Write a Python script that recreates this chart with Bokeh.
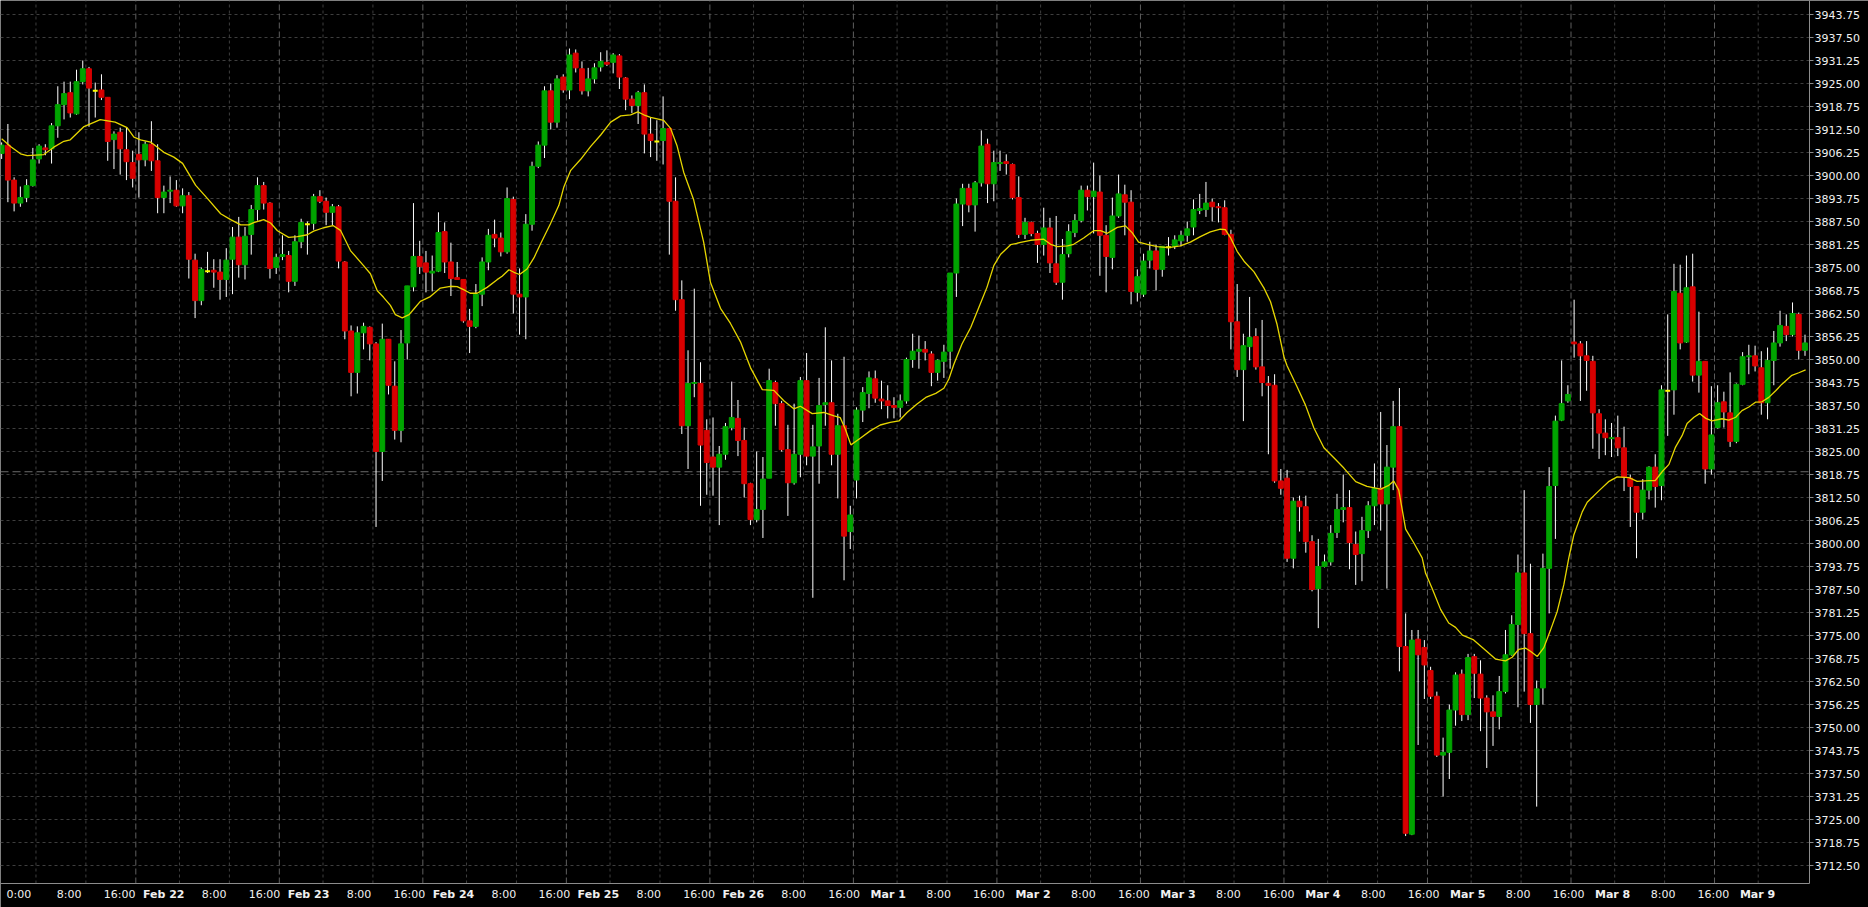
from bokeh.plotting import figure
from bokeh.models import ColumnDataSource, Range1d
from bokeh.core.properties import value
from bokeh.embed import file_html
from bokeh.resources import INLINE

# ---------------- data (hourly OHLC) ----------------
opens = [3906.0, 3908.25, 3898.75, 3892.5, 3894.0, 3897.25, 3904.5, 3907.5, 3907.25, 3913.5,
         3919.25, 3922.5, 3916.75, 3925.5, 3929.0, 3923.0, 3923.25, 3921.25, 3909.75, 3911.75,
         3907.0, 3903.5, 3905.75, 3904.25, 3908.5, 3904.0, 3894.0, 3895.75, 3896.0, 3891.75,
         3894.5, 3877.0, 3866.0, 3874.0, 3874.25, 3873.75, 3871.75, 3877.25, 3883.25, 3875.75,
         3884.0, 3890.75, 3897.25, 3892.5, 3875.0, 3878.0, 3878.25, 3871.25, 3882.0, 3886.75,
         3887.0, 3894.25, 3893.0, 3890.0, 3891.5, 3876.5, 3857.75, 3846.5, 3857.25, 3858.75,
         3854.25, 3825.0, 3855.5, 3842.75, 3830.75, 3854.5, 3869.75, 3878.0, 3876.25, 3873.5,
         3874.0, 3884.75, 3876.5, 3872.25, 3871.75, 3860.5, 3859.0, 3867.75, 3876.5, 3884.0,
         3883.0, 3879.25, 3893.5, 3867.75, 3867.0, 3886.75, 3902.5, 3908.25, 3923.0, 3914.5,
         3926.75, 3923.25, 3933.25, 3929.0, 3923.0, 3926.25, 3929.5, 3930.75, 3930.75, 3932.5,
         3926.5, 3920.75, 3919.0, 3922.5, 3911.25, 3909.25, 3909.5, 3912.75, 3893.0, 3866.25,
         3832.0, 3843.5, 3843.5, 3830.75, 3823.5, 3820.75, 3824.25, 3831.5, 3834.0, 3828.0,
         3816.25, 3806.5, 3809.25, 3817.75, 3843.75, 3838.0, 3825.5, 3816.5, 3824.25, 3844.25,
         3823.75, 3826.5, 3837.75, 3838.25, 3824.25, 3832.0, 3803.25, 3817.25, 3836.25, 3840.75,
         3844.75, 3839.25, 3838.75, 3837.5, 3837.0, 3838.75, 3850.0, 3852.25, 3852.75, 3851.5,
         3846.5, 3849.5, 3852.25, 3873.5, 3892.25, 3896.5, 3892.0, 3898.0, 3908.5, 3897.75,
         3903.25, 3903.75, 3903.0, 3894.0, 3884.0, 3887.25, 3884.25, 3881.25, 3885.75, 3876.0,
         3871.0, 3878.75, 3884.5, 3887.75, 3896.0, 3894.25, 3895.5, 3883.75, 3877.75, 3889.0,
         3894.75, 3892.75, 3868.25, 3867.75, 3877.0, 3879.5, 3874.5, 3880.5, 3880.75, 3882.25,
         3883.75, 3886.0, 3890.5, 3890.75, 3892.75, 3891.5, 3891.25, 3884.0, 3860.25, 3847.25,
         3853.5, 3856.25, 3848.0, 3843.5, 3843.0, 3817.0, 3817.75, 3796.0, 3811.5, 3810.0,
         3800.5, 3787.75, 3793.75, 3795.0, 3803.0, 3809.25, 3809.75, 3799.75, 3797.25, 3803.5,
         3810.25, 3815.0, 3810.75, 3820.75, 3831.75, 3772.0, 3721.0, 3774.0, 3771.75, 3765.5,
         3758.5, 3742.5, 3743.25, 3754.75, 3764.5, 3753.5, 3769.25, 3764.5, 3758.0, 3754.25,
         3753.0, 3759.75, 3769.75, 3778.0, 3792.0, 3775.5, 3756.25, 3760.75, 3793.25, 3815.75,
         3833.5, 3838.75, 3854.75, 3854.25, 3851.0, 3849.5, 3835.25, 3830.0, 3828.5, 3828.75,
         3826.0, 3817.75, 3815.5, 3808.5, 3814.5, 3820.75, 3815.75, 3841.5, 3841.75, 3868.0,
         3854.75, 3869.75, 3845.75, 3849.5, 3820.25, 3831.5, 3838.5, 3835.5, 3827.75, 3843.25,
         3850.75, 3851.0, 3847.75, 3838.25, 3849.75, 3854.5, 3859.0, 3856.75, 3862.25, 3852.5]

highs = [3909.0, 3914.0, 3899.5, 3897.0, 3899.0, 3907.5, 3908.5, 3908.5, 3914.25, 3924.25,
         3925.5, 3925.5, 3928.75, 3931.25, 3929.5, 3925.25, 3927.5, 3921.25, 3912.0, 3913.0,
         3913.0, 3906.75, 3911.75, 3909.25, 3914.75, 3908.5, 3897.25, 3899.75, 3898.75, 3896.5,
         3895.5, 3878.75, 3875.0, 3879.25, 3877.25, 3877.25, 3880.25, 3886.0, 3888.75, 3886.0,
         3892.0, 3899.5, 3898.25, 3892.75, 3878.75, 3883.75, 3879.5, 3883.75, 3888.25, 3887.5,
         3895.0, 3896.0, 3894.0, 3892.25, 3892.0, 3876.75, 3859.25, 3859.0, 3860.0, 3859.0,
         3854.75, 3859.75, 3855.5, 3849.5, 3858.0, 3870.0, 3892.5, 3882.25, 3879.5, 3878.25,
         3890.0, 3887.25, 3881.75, 3876.5, 3871.75, 3863.75, 3870.5, 3877.75, 3885.5, 3888.0,
         3884.5, 3896.75, 3894.25, 3874.75, 3889.5, 3903.75, 3909.25, 3924.25, 3925.0, 3927.25,
         3927.5, 3934.5, 3934.25, 3931.0, 3929.25, 3930.5, 3933.5, 3934.0, 3933.25, 3933.0,
         3926.75, 3921.75, 3923.0, 3924.75, 3915.75, 3915.0, 3921.5, 3912.75, 3899.5, 3871.5,
         3852.5, 3869.25, 3849.25, 3833.75, 3834.25, 3826.5, 3832.75, 3844.0, 3839.0, 3831.5,
         3816.5, 3825.0, 3823.5, 3847.5, 3844.25, 3838.75, 3832.25, 3838.0, 3845.25, 3851.75,
         3832.25, 3845.0, 3858.75, 3849.75, 3835.25, 3850.75, 3810.25, 3837.0, 3842.5, 3846.75,
         3847.0, 3844.25, 3843.0, 3839.75, 3840.5, 3850.5, 3857.0, 3856.5, 3855.0, 3852.25,
         3850.0, 3854.0, 3873.5, 3893.75, 3897.75, 3897.75, 3898.5, 3912.25, 3910.0, 3906.75,
         3906.75, 3905.75, 3903.25, 3899.75, 3888.5, 3887.5, 3885.0, 3891.25, 3888.5, 3889.0,
         3882.75, 3886.75, 3889.5, 3897.25, 3897.25, 3903.5, 3900.0, 3886.5, 3894.0, 3900.25,
         3897.5, 3896.0, 3874.5, 3878.75, 3882.0, 3881.25, 3880.75, 3883.25, 3883.75, 3885.0,
         3887.5, 3893.5, 3895.0, 3898.25, 3893.75, 3892.5, 3893.25, 3885.25, 3870.5, 3857.0,
         3867.0, 3858.5, 3860.75, 3845.5, 3846.0, 3820.25, 3820.0, 3812.5, 3813.0, 3813.0,
         3802.25, 3801.25, 3797.0, 3805.0, 3813.5, 3818.75, 3814.5, 3803.25, 3807.25, 3811.5,
         3821.75, 3835.75, 3826.75, 3838.75, 3842.25, 3781.0, 3776.5, 3776.5, 3773.75, 3766.5,
         3759.75, 3747.25, 3756.25, 3765.0, 3765.75, 3770.0, 3770.0, 3768.25, 3758.75, 3758.75,
         3764.0, 3776.5, 3780.5, 3797.0, 3814.5, 3794.5, 3762.75, 3797.25, 3820.75, 3834.75,
         3849.75, 3843.0, 3866.25, 3855.0, 3855.0, 3851.0, 3836.5, 3833.75, 3832.75, 3834.75,
         3831.75, 3818.75, 3815.5, 3817.5, 3821.0, 3824.25, 3843.0, 3862.25, 3876.0, 3875.75,
         3878.25, 3878.75, 3863.0, 3849.5, 3842.75, 3843.0, 3841.25, 3846.5, 3843.5, 3852.0,
         3854.0, 3853.75, 3852.25, 3853.25, 3857.75, 3863.25, 3862.25, 3865.5, 3862.75, 3856.75]

lows = [3904.5, 3892.75, 3890.25, 3891.5, 3892.75, 3897.0, 3903.25, 3905.5, 3903.25, 3910.25,
        3915.25, 3915.75, 3916.5, 3924.75, 3913.25, 3915.75, 3920.5, 3904.0, 3901.75, 3900.25,
        3898.75, 3896.75, 3894.0, 3902.5, 3901.25, 3889.75, 3889.75, 3892.5, 3891.5, 3889.75,
        3872.0, 3861.25, 3864.75, 3873.5, 3869.5, 3866.25, 3867.0, 3867.75, 3872.25, 3871.75,
        3878.5, 3887.75, 3890.75, 3872.0, 3873.25, 3877.0, 3868.25, 3870.0, 3880.25, 3878.5,
        3885.25, 3892.5, 3886.5, 3886.5, 3874.75, 3855.5, 3840.0, 3840.75, 3852.75, 3849.75,
        3804.5, 3817.0, 3840.5, 3828.25, 3827.5, 3850.0, 3868.5, 3873.25, 3868.25, 3868.5,
        3873.75, 3873.5, 3867.25, 3871.75, 3860.0, 3851.75, 3858.5, 3864.5, 3874.25, 3880.5,
        3878.0, 3878.75, 3862.5, 3856.75, 3855.5, 3885.0, 3902.0, 3904.75, 3912.5, 3913.0,
        3922.5, 3920.75, 3928.0, 3922.0, 3921.5, 3925.0, 3928.25, 3929.75, 3927.75, 3923.5,
        3917.75, 3917.0, 3914.0, 3906.0, 3905.0, 3904.0, 3903.0, 3878.5, 3863.25, 3829.75,
        3820.25, 3839.75, 3810.25, 3813.25, 3813.0, 3805.0, 3822.75, 3830.75, 3823.75, 3812.5,
        3805.0, 3805.75, 3801.5, 3817.75, 3832.0, 3825.0, 3807.5, 3816.0, 3818.0, 3821.25,
        3785.25, 3816.25, 3832.0, 3821.25, 3812.25, 3790.0, 3798.5, 3812.25, 3833.0, 3836.75,
        3838.25, 3836.5, 3834.0, 3834.0, 3834.25, 3838.0, 3847.75, 3847.5, 3849.75, 3842.75,
        3844.25, 3845.0, 3847.5, 3867.0, 3886.25, 3890.0, 3884.75, 3897.0, 3892.5, 3893.0,
        3901.25, 3900.25, 3893.5, 3883.0, 3882.75, 3883.5, 3876.25, 3878.25, 3873.5, 3870.25,
        3866.25, 3877.75, 3883.25, 3887.25, 3890.5, 3884.25, 3872.75, 3868.25, 3874.5, 3888.5,
        3883.75, 3865.0, 3865.75, 3867.0, 3874.75, 3868.75, 3872.5, 3878.25, 3880.0, 3880.75,
        3882.0, 3883.75, 3889.5, 3888.75, 3887.5, 3887.25, 3883.75, 3852.75, 3845.25, 3833.25,
        3849.75, 3847.25, 3840.0, 3824.25, 3816.5, 3813.25, 3795.0, 3793.25, 3803.25, 3797.5,
        3787.0, 3777.0, 3793.5, 3794.0, 3801.5, 3805.75, 3793.0, 3788.75, 3789.75, 3801.5,
        3805.0, 3803.5, 3787.75, 3814.5, 3765.25, 3720.5, 3720.75, 3745.25, 3757.75, 3757.75,
        3742.0, 3731.25, 3736.0, 3750.5, 3751.75, 3752.0, 3758.0, 3749.0, 3739.0, 3745.0,
        3749.5, 3759.25, 3769.5, 3755.5, 3759.75, 3751.25, 3728.5, 3756.25, 3781.0, 3801.25,
        3833.25, 3838.25, 3850.5, 3838.75, 3841.5, 3825.75, 3823.0, 3824.0, 3823.5, 3823.75,
        3814.25, 3804.5, 3796.0, 3806.5, 3812.0, 3809.75, 3811.75, 3829.25, 3835.0, 3852.75,
        3854.5, 3844.0, 3841.0, 3816.25, 3818.75, 3831.25, 3831.5, 3826.25, 3827.25, 3843.0,
        3846.0, 3846.75, 3835.0, 3833.75, 3843.0, 3853.5, 3855.0, 3856.25, 3850.0, 3851.0]

closes = [3908.25, 3898.75, 3892.5, 3894.0, 3897.25, 3904.25, 3908.0, 3907.0, 3913.5, 3919.25,
          3922.25, 3917.0, 3925.5, 3929.0, 3923.75, 3923.0, 3921.25, 3909.25, 3911.25, 3907.25,
          3903.75, 3899.25, 3904.25, 3908.5, 3904.0, 3894.0, 3895.5, 3896.0, 3891.75, 3894.5,
          3877.25, 3866.0, 3874.5, 3874.0, 3873.75, 3871.75, 3877.0, 3883.25, 3875.75, 3883.5,
          3890.75, 3897.25, 3892.5, 3874.75, 3877.75, 3878.5, 3871.25, 3882.0, 3887.25, 3886.75,
          3894.25, 3893.0, 3890.0, 3891.5, 3876.75, 3857.75, 3846.5, 3857.25, 3859.0, 3854.25,
          3825.0, 3855.5, 3843.0, 3830.75, 3854.25, 3870.0, 3878.0, 3875.25, 3873.75, 3874.0,
          3884.5, 3876.5, 3872.0, 3871.75, 3860.5, 3859.0, 3867.75, 3876.5, 3883.75, 3883.0,
          3879.25, 3893.75, 3867.75, 3867.0, 3886.75, 3902.5, 3908.25, 3923.0, 3914.5, 3926.25,
          3923.25, 3932.75, 3929.25, 3923.0, 3926.25, 3929.25, 3931.0, 3930.25, 3932.75, 3926.75,
          3920.75, 3919.0, 3922.5, 3911.25, 3909.5, 3909.25, 3912.75, 3893.0, 3866.25, 3832.0,
          3843.5, 3843.75, 3826.75, 3822.0, 3820.75, 3824.25, 3831.75, 3834.25, 3828.0, 3816.25,
          3806.5, 3809.25, 3817.5, 3844.25, 3838.0, 3825.5, 3816.5, 3824.25, 3844.25, 3823.75,
          3826.25, 3837.5, 3838.25, 3824.25, 3832.0, 3802.0, 3807.75, 3836.25, 3841.0, 3845.0,
          3839.5, 3838.75, 3837.5, 3837.0, 3838.75, 3850.0, 3852.25, 3852.75, 3852.0, 3846.5,
          3849.75, 3852.0, 3873.5, 3892.25, 3896.5, 3892.0, 3898.0, 3908.0, 3897.75, 3903.5,
          3903.5, 3903.25, 3894.0, 3884.0, 3887.25, 3884.25, 3881.25, 3885.75, 3876.25, 3871.0,
          3878.5, 3884.75, 3887.75, 3896.0, 3894.25, 3895.75, 3883.75, 3878.0, 3889.0, 3895.0,
          3892.75, 3868.5, 3872.5, 3876.75, 3879.5, 3874.5, 3880.75, 3880.5, 3882.5, 3883.75,
          3885.5, 3890.75, 3891.0, 3892.5, 3891.5, 3891.25, 3884.0, 3860.25, 3847.25, 3853.75,
          3856.0, 3848.0, 3843.75, 3843.0, 3817.0, 3815.0, 3796.0, 3811.5, 3810.0, 3800.5,
          3787.5, 3793.75, 3795.0, 3802.75, 3809.25, 3809.75, 3800.25, 3797.0, 3803.5, 3810.25,
          3815.0, 3810.75, 3820.75, 3831.75, 3772.0, 3721.25, 3773.75, 3769.75, 3767.0, 3758.5,
          3742.5, 3743.25, 3754.75, 3764.25, 3753.5, 3769.0, 3764.75, 3758.0, 3754.25, 3753.0,
          3759.75, 3769.75, 3778.0, 3792.0, 3775.5, 3756.25, 3760.5, 3793.25, 3815.5, 3833.25,
          3838.0, 3840.5, 3854.25, 3851.0, 3849.75, 3835.5, 3830.0, 3828.75, 3828.75, 3826.0,
          3818.0, 3815.5, 3808.5, 3814.5, 3820.75, 3815.5, 3841.75, 3841.5, 3868.5, 3854.5,
          3869.5, 3845.75, 3849.5, 3820.25, 3829.5, 3838.25, 3835.75, 3827.75, 3843.25, 3850.75,
          3851.0, 3848.25, 3838.25, 3849.75, 3854.5, 3859.25, 3856.75, 3862.5, 3852.5, 3854.5]

# moving-average line (bar position, price)
ma_x = [0, 1.42, 3.02, 4.09, 6.76, 8.36, 9.97, 11.0, 13.2, 15.8, 18.2, 20.1, 21.2, 22.25, 23.86,
        26.0, 27.6, 29.0, 31.1, 33.0, 35.1, 36.7, 38.3, 39.6, 40.4, 42.0, 43.1, 44.2, 46.0, 47.4,
        49.0, 50.0, 51.6, 53.1, 54.3, 55.9, 58.0, 59.1, 60.2, 61.2, 62.3, 63.1, 64.2, 65.3, 66.1,
        67.1, 68.7, 70.3, 71.9, 73.0, 74.1, 75.1, 76.2, 77.8, 79.4, 80.2, 81.3, 82.1, 83.0, 84.2,
        85.3, 86.35, 87.95, 89.3, 90.1, 91.2, 92.8, 94.4, 96.0, 97.6, 99.2, 100.8, 101.95, 102.9,
        104.0, 106.1, 107.2, 108.25, 109.3, 110.9, 112.5, 113.6, 115.2, 116.8, 118.4, 120.0,
        121.9, 123.75, 125.35, 126.95, 128.0, 129.9, 131.75, 133.4, 134.4, 135.2, 136.1, 137.6,
        139.2, 140.8, 142.4, 143.8, 145.1, 146.7, 148.1, 149.7, 151.0, 151.8, 152.6, 153.9,
        155.3, 156.6, 157.9, 159.0, 160.1, 161.7, 163.3, 164.9, 167.0, 168.1, 169.2, 170.8,
        171.8, 173.4, 175.0, 176.1, 177.2, 178.8, 180.1, 181.2, 182.2, 183.6, 185.2, 187.05,
        188.9, 190.5, 192.1, 193.7, 195.3, 196.1, 196.9, 198.0, 199.1, 200.7, 202.3, 203.35,
        204.4, 205.5, 206.0, 207.6, 208.95, 210.3, 211.9, 213.5, 215.1, 217.0, 218.8, 221.0,
        222.3, 223.1, 223.9, 225.0, 226.3, 227.65, 228.2, 229.25, 230.6, 231.9, 233.0, 234.1,
        235.9, 237.8, 239.4, 241.0, 242.07, 243.1, 244.2, 245.0, 246.1, 247.15, 248.2, 249.3,
        250.35, 251.15, 251.95, 253.3, 254.1, 255.96, 257.6, 258.9, 260.8, 262.1, 264.0, 265.0,
        266.1, 267.2, 268.25, 269.3, 270.1, 271.2, 272.1, 273.1, 274.1, 275.7, 276.8, 277.9,
        278.9, 280.0, 281.06, 282.1, 283.2, 284.3, 285.3, 286.9, 288.0, 289.1]
ma_y = [3910.0, 3907.9, 3905.9, 3905.4, 3905.7, 3907.7, 3909.3, 3909.7, 3913.3, 3915.2, 3914.5,
        3913.0, 3910.4, 3909.7, 3909.1, 3906.3, 3905.0, 3903.3, 3897.3, 3893.7, 3889.6, 3888.0,
        3886.6, 3886.6, 3887.2, 3888.0, 3887.1, 3885.0, 3883.2, 3883.4, 3883.9, 3884.9, 3885.8,
        3886.4, 3885.1, 3879.6, 3875.5, 3873.3, 3868.7, 3866.9, 3864.7, 3862.2, 3861.3, 3862.2,
        3863.8, 3865.8, 3867.1, 3869.4, 3869.9, 3869.8, 3868.9, 3868.0, 3868.0, 3869.6, 3871.7,
        3872.6, 3874.4, 3873.7, 3873.1, 3874.6, 3877.6, 3881.4, 3886.9, 3891.9, 3896.9, 3901.4,
        3904.4, 3907.9, 3911.0, 3914.5, 3916.2, 3916.5, 3917.3, 3916.5, 3915.8, 3915.0, 3912.8,
        3908.0, 3900.9, 3893.4, 3881.9, 3870.9, 3863.9, 3859.8, 3854.8, 3847.8, 3841.8, 3841.6,
        3838.8, 3836.6, 3837.3, 3835.3, 3835.6, 3834.7, 3834.2, 3831.1, 3826.8, 3828.6, 3830.6,
        3832.2, 3832.9, 3833.3, 3835.6, 3837.9, 3839.7, 3840.8, 3842.2, 3844.7, 3848.7, 3854.2,
        3858.7, 3864.1, 3869.6, 3875.5, 3878.6, 3881.2, 3881.8, 3882.4, 3882.7, 3881.3, 3880.7,
        3880.9, 3881.3, 3883.0, 3885.0, 3885.0, 3884.3, 3885.9, 3886.3, 3884.4, 3881.9, 3881.3,
        3880.7, 3880.4, 3880.9, 3881.9, 3883.4, 3884.7, 3885.4, 3885.3, 3883.2, 3879.4, 3876.7,
        3873.8, 3869.4, 3865.7, 3859.5, 3850.7, 3848.3, 3842.6, 3837.6, 3831.4, 3826.0, 3823.3,
        3820.5, 3816.8, 3815.5, 3814.8, 3815.8, 3817.0, 3814.5, 3803.9, 3800.2, 3796.1, 3791.9,
        3787.8, 3782.1, 3778.4, 3777.2, 3775.1, 3773.8, 3771.0, 3768.6, 3768.1, 3769.1, 3771.2,
        3771.6, 3770.7, 3769.3, 3771.7, 3776.4, 3781.6, 3788.8, 3796.1, 3802.3, 3808.6, 3811.2,
        3814.3, 3816.9, 3818.1, 3817.9, 3816.9, 3817.1, 3817.1, 3819.5, 3821.5, 3826.2, 3829.3,
        3832.6, 3834.3, 3835.3, 3834.0, 3833.3, 3833.9, 3833.5, 3834.3, 3836.1, 3837.1, 3838.4,
        3838.5, 3839.7, 3841.5, 3843.3, 3845.7, 3846.4, 3847.2]

price_line = 3819.5
day_names = ["Feb 22", "Feb 23", "Feb 24", "Feb 25", "Feb 26", "Mar 1",
             "Mar 2", "Mar 3", "Mar 4", "Mar 5", "Mar 8", "Mar 9"]
lead_labels = ["0:00", "8:00", "16:00"]
hour_labels = ["8:00", "16:00"]
price_ticks = [3712.5 + 6.25 * k for k in range(38)]

# ---------------- geometry of the drawing (canvas pixels) ----------------
W, H = 1868, 907                 # canvas
PLOT_R, PLOT_B = 1809, 883       # right / bottom edge of the price pane
PX_PER_BAR = 6.24
BAR0_PX = 1.14                   # centre of the first bar
PX_PER_PT = 3.68
TOP_TICK, TOP_TICK_PX = 3943.75, 14

X0 = -BAR0_PX / PX_PER_BAR
X1 = X0 + PLOT_R / PX_PER_BAR
x_end = X0 + W / PX_PER_BAR
y_top = TOP_TICK + TOP_TICK_PX / PX_PER_PT
y_bot = y_top - H / PX_PER_PT
y_axis = y_top - PLOT_B / PX_PER_PT          # price at the time-axis line


def dx(px):   # pixel distance -> bar units
    return px / PX_PER_BAR


def dy(px):   # pixel distance -> price units
    return px / PX_PER_PT


# ---------------- time-axis layout ----------------
n = len(closes)
xs = list(range(n))
first_session_bar = 22
session_bars = 23
day_lines = [first_session_bar - 0.5 + session_bars * k for k in range(len(day_names))]
hour_lines = []
for k in range(-1, len(day_names)):
    d = first_session_bar - 0.5 + session_bars * k
    for off in (7, 15):
        g = d + off
        if 0 < g < n - 0.5:
            hour_lines.append(g)
all_lines = sorted(hour_lines + day_lines)
texts = list(lead_labels)
for name in day_names:
    texts += [name] + hour_labels
texts = texts[:len(all_lines)]
label_pos = [g * 1.00957 - 2.803 for g in all_lines]
time_pos = [p_ for p_, t in zip(label_pos, texts) if t not in day_names]
time_txt = [t for t in texts if t not in day_names]
date_pos = [p_ for p_, t in zip(label_pos, texts) if t in day_names]
date_txt = [t for t in texts if t in day_names]

# ---------------- figure ----------------
FONT = value("DejaVu Sans")
TXT = "#f0f0f0"
AX = "#8c8c8c"
GRID = "#3e3e3e"

p = figure(width=W, height=H, output_backend="svg", toolbar_location=None,
           x_range=Range1d(X0, x_end), y_range=Range1d(y_bot, y_top),
           x_axis_location=None, y_axis_location=None,
           background_fill_color="#000000", border_fill_color="#000000",
           outline_line_color=None, min_border=0)
p.grid.visible = False

# grid
p.segment(x0=[X0] * len(price_ticks), y0=price_ticks, x1=[X1] * len(price_ticks), y1=price_ticks,
          line_color=GRID, line_width=1, line_dash="3 3")
p.segment(x0=hour_lines, y0=[y_axis] * len(hour_lines), x1=hour_lines, y1=[y_top] * len(hour_lines),
          line_color=GRID, line_width=1, line_dash="3 3")
p.segment(x0=day_lines, y0=[y_axis] * len(day_lines), x1=day_lines, y1=[y_top] * len(day_lines),
          line_color="#5e5e5e", line_width=1, line_dash="6 3")
p.segment(x0=[X0], y0=[price_line], x1=[X1], y1=[price_line],
          line_color="#6a6a6a", line_width=1, line_dash="8 4")

# candles
src = ColumnDataSource(dict(x=xs, o=opens, h=highs, l=lows, c=closes))
p.segment(x0="x", y0="l", x1="x", y1="h", source=src, line_color="white", line_width=1)

up = [i for i in xs if closes[i] > opens[i]]
dn = [i for i in xs if closes[i] < opens[i]]
dj = [i for i in xs if closes[i] == opens[i]]
up_src = ColumnDataSource(dict(x=up, top=[closes[i] for i in up], bot=[opens[i] for i in up]))
dn_src = ColumnDataSource(dict(x=dn, top=[opens[i] for i in dn], bot=[closes[i] for i in dn]))
dj_src = ColumnDataSource(dict(x0=[i - 0.39 for i in dj], x1=[i + 0.39 for i in dj],
                               y=[closes[i] for i in dj]))
p.vbar(x="x", top="top", bottom="bot", width=0.78, source=up_src,
       fill_color="#00a400", line_color="#00a400", line_width=1)
p.vbar(x="x", top="top", bottom="bot", width=0.78, source=dn_src,
       fill_color="#d80000", line_color="#d80000", line_width=1)
p.segment(x0="x0", y0="y", x1="x1", y1="y", source=dj_src, line_color="#ffff00", line_width=2)

# moving average
p.line(ma_x, ma_y, line_color="#e6d600", line_width=1.3)

# axis lines, price ticks (right) and time labels (bottom)
p.segment(x0=[X0, X1], y0=[y_axis, y_axis], x1=[X1, X1], y1=[y_axis, y_top],
          line_color=AX, line_width=1)
p.segment(x0=[X1] * len(price_ticks), y0=price_ticks, x1=[X1 + dx(4)] * len(price_ticks),
          y1=price_ticks, line_color=AX, line_width=1)
p.text(x=[X1 + dx(5)] * len(price_ticks), y=price_ticks,
       text=["%.2f" % v for v in price_ticks], text_font=FONT, text_font_size="11px",
       text_color=TXT, text_align="left", text_baseline="middle")

lab_y = y_axis - dy(10.5)
p.text(x=time_pos, y=[lab_y] * len(time_pos), text=time_txt, text_font=FONT,
       text_font_size="11px", text_color=TXT, text_align="center", text_baseline="middle")
p.text(x=date_pos, y=[lab_y] * len(date_pos), text=date_txt, text_font=FONT,
       text_font_size="11px", text_font_style="bold", text_color=TXT,
       text_align="center", text_baseline="middle")

open("out.html", "w").write(file_html(p, INLINE))
